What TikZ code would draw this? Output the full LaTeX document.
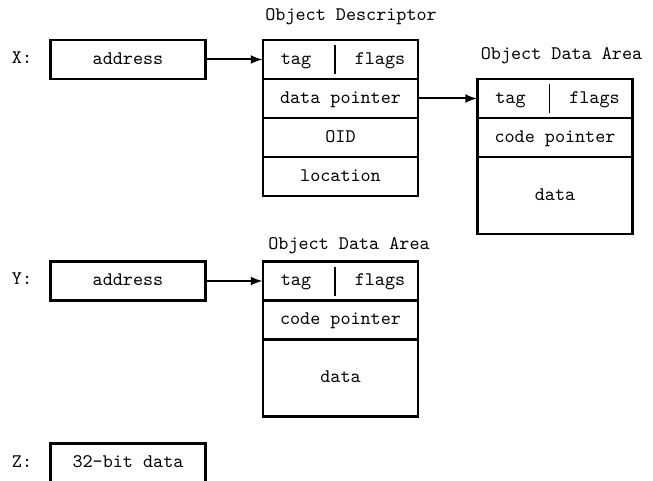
\documentclass[tikz,border=0pt]{standalone}
\usetikzlibrary{positioning}
\begin{document}
\begin{tikzpicture}[x=0.5pt,y=-0.5pt,>=latex,line join=miter,font=\fontsize{9.6}{11}\ttfamily,
		every node/.style={text height=1.5ex,text depth=.35ex},
		cell/.style={draw,line width=1.45pt,minimum width=77.5pt,minimum height=19.5pt,inner sep=0pt,outer sep=0pt},
		bigcell/.style={cell,minimum height=38.5pt},
		title/.style={anchor=base west,inner sep=0pt},
		ptr/.style={->,line width=1pt,shorten >=0.3pt}]
	\useasboundingbox (0,0) rectangle (653,481);
	\clip (0,0) rectangle (653,481);
	\def\tagx{16.5pt}
	\def\flagx{-19pt}
	\def\barx{36pt}
	% X: pointer to an object descriptor
	\node (xlbl) at (22,59) {X:};
	\node [cell] (xaddr) at (128,59.5) {address};
	\node [cell] (dtag) at (340.5,59.5) {};
	\node [cell,below=0pt of dtag] (dptr) {data pointer};
	\node [cell,below=0pt of dptr] (doid) {OID};
	\node [cell,below=0pt of doid] (dloc) {location};
	\node [title] (dtitle) at ([xshift=1pt,yshift=9.5pt]dtag.north west) {Object Descriptor};
	\node (dtagl) at ([xshift=\tagx]dtag.west) {tag};
	\node (dflags) at ([xshift=\flagx]dtag.east) {flags};
	\draw [line width=1pt] ([xshift=\barx,yshift=-2.5pt]dtag.north west)--([xshift=\barx,yshift=2.5pt]dtag.south west);
	\draw [ptr] (xaddr.east)--(dtag.west);
	% object data area reached through the descriptor
	\node [cell] (atag) at (555,98.5) {};
	\node [cell,below=0pt of atag] (acode) {code pointer};
	\node [bigcell,below=0pt of acode] (adata) {data};
	\node [title] (atitle) at ([xshift=1.5pt,yshift=9.5pt]atag.north west) {Object Data Area};
	\node (atagl) at ([xshift=\tagx]atag.west) {tag};
	\node (aflags) at ([xshift=\flagx]atag.east) {flags};
	\draw [line width=0.5pt] ([xshift=\barx,yshift=-2.5pt]atag.north west)--([xshift=\barx,yshift=2.5pt]atag.south west);
	\draw [ptr] (dptr.east)--(atag.west);
	% Y: pointer straight to an object data area
	\node (ylbl) at (22,280) {Y:};
	\node [cell] (yaddr) at (128,281) {address};
	\node [cell] (btag) at (340.5,281) {};
	\node [cell,below=0pt of btag] (bcode) {code pointer};
	\node [bigcell,below=0pt of bcode] (bdata) {data};
	\node [title] (btitle) at ([xshift=2.5pt,yshift=6pt]btag.north west) {Object Data Area};
	\node (btagl) at ([xshift=\tagx]btag.west) {tag};
	\node (bflags) at ([xshift=\flagx]btag.east) {flags};
	\draw [line width=1pt] ([xshift=\barx,yshift=-2.5pt]btag.north west)--([xshift=\barx,yshift=2.5pt]btag.south west);
	\draw [ptr] (yaddr.east)--(btag.west);
	% Z: immediate value
	\node (zlbl) at (22,463) {Z:};
	\node [cell] (zval) at (128,463) {32-bit data};
\end{tikzpicture}
\end{document}
